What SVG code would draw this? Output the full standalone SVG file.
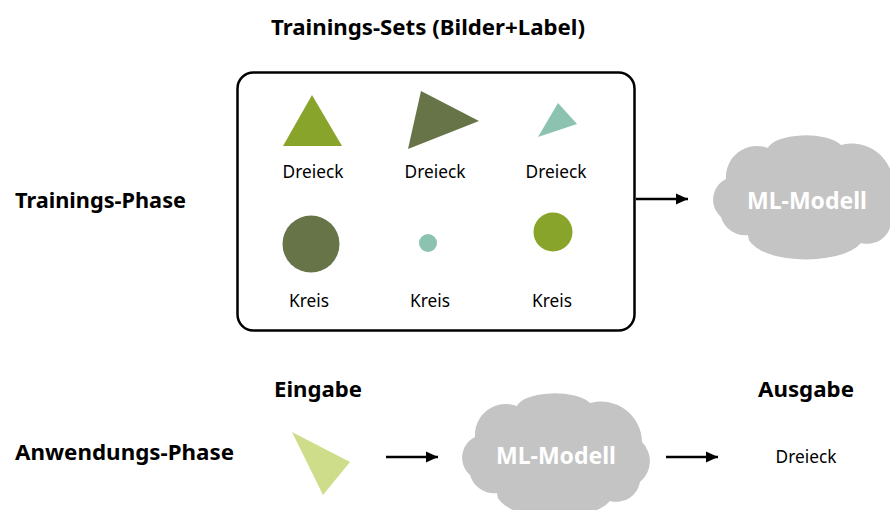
<svg xmlns="http://www.w3.org/2000/svg" width="890" height="510" viewBox="0 0 890 510">
  <style>
    .h { font-family: "Noto Sans", "Open Sans", "DejaVu Sans", sans-serif; font-weight: 700; font-size: 22px; fill: #000; }
    .lbl { font-family: "Noto Sans", "Open Sans", "DejaVu Sans", sans-serif; font-size: 17.3px; fill: #000; text-anchor: middle; }
    .ml { font-family: "Noto Sans", "Open Sans", "DejaVu Sans", sans-serif; font-weight: 700; font-size: 23px; fill: #fff; text-anchor: middle; }
    .cloud { fill: #c4c4c4; }
    .conn { stroke: #000; stroke-width: 2.5; fill: none; }
    .olive { fill: #667448; }
    .green { fill: #88a42a; }
    .teal { fill: #8bc3b0; }
    .light { fill: #cddd8a; }
  </style>
  <defs>
    <path id="cloudShape" d="M13,42 A31,31 0 0 1 55,11 A38,15 0 0 1 128,8 A41,41 0 0 1 180,47 A27,27 0 0 1 178,87 A24,24 0 0 1 148,106 A58,24 0 0 1 35,98 A25,25 0 0 1 8,80 A23,23 0 0 1 13,42 Z"/>
    <marker id="arrow" markerUnits="userSpaceOnUse" markerWidth="12" markerHeight="12" viewBox="0 0 12 12" refX="12" refY="6" orient="auto">
      <path d="M0,0.5 L12,6 L0,11.5 Z" fill="#000"/>
    </marker>
  </defs>

  <g id="title">
    <text class="h" x="271" y="35" textLength="314" lengthAdjust="spacingAndGlyphs">Trainings-Sets (Bilder+Label)</text>
  </g>
  <g id="trainings-phase-label">
    <text class="h" x="15" y="208" textLength="171" lengthAdjust="spacingAndGlyphs">Trainings-Phase</text>
  </g>
  <g id="anwendungs-phase-label">
    <text class="h" x="15" y="460" textLength="219" lengthAdjust="spacingAndGlyphs">Anwendungs-Phase</text>
  </g>

  <g id="training-set">
    <rect x="237.5" y="72.5" width="397" height="258" rx="16" ry="16" fill="#fff" stroke="#000" stroke-width="2.5"/>
    <polygon class="green" points="312,95 342,146 283,146"/>
    <polygon class="olive" points="421,91 479,121 408,149"/>
    <polygon class="teal" points="558,103 577,124 538,137"/>
    <text class="lbl" x="313" y="178">Dreieck</text>
    <text class="lbl" x="435" y="178">Dreieck</text>
    <text class="lbl" x="556" y="178">Dreieck</text>
    <circle class="olive" cx="311" cy="244" r="28.5"/>
    <circle class="teal" cx="428" cy="243" r="9"/>
    <circle class="green" cx="553" cy="232" r="19.5"/>
    <text class="lbl" x="309" y="307">Kreis</text>
    <text class="lbl" x="430" y="307">Kreis</text>
    <text class="lbl" x="552" y="307">Kreis</text>
  </g>

  <g id="ml-modell-training">
    <use href="#cloudShape" class="cloud" transform="translate(713,137)"/>
    <text class="ml" x="807" y="209">ML-Modell</text>
  </g>

  <g id="eingabe">
    <text class="h" x="274" y="397" textLength="88" lengthAdjust="spacingAndGlyphs">Eingabe</text>
    <polygon class="light" points="292,432 350,462 323,495"/>
  </g>

  <g id="ml-modell-anwendung">
    <use href="#cloudShape" class="cloud" transform="translate(462,395)"/>
    <text class="ml" x="556" y="464">ML-Modell</text>
  </g>

  <g id="ausgabe">
    <text class="h" x="758" y="397" textLength="96" lengthAdjust="spacingAndGlyphs">Ausgabe</text>
    <text class="lbl" x="806" y="463">Dreieck</text>
  </g>

  <g id="connectors">
    <line class="conn" x1="636" y1="199" x2="688" y2="199" marker-end="url(#arrow)"/>
    <line class="conn" x1="386" y1="457" x2="438" y2="457" marker-end="url(#arrow)"/>
    <line class="conn" x1="666" y1="457" x2="718" y2="457" marker-end="url(#arrow)"/>
  </g>
</svg>
